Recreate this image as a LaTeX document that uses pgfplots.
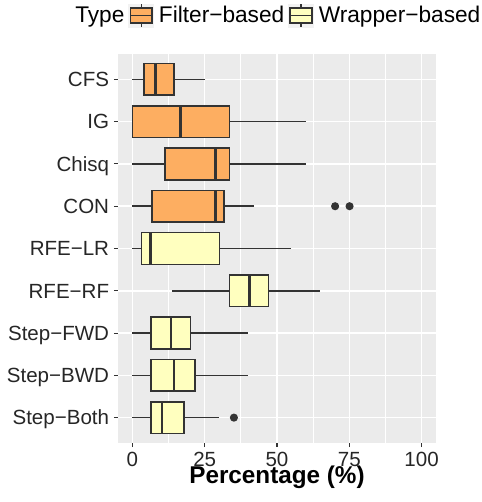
\documentclass[border=0pt]{standalone}
\usepackage{fontspec}
\setmainfont{Liberation Sans}
\usepackage{pgfplots}
\pgfplotsset{compat=1.18}
\usepgfplotslibrary{statistics}

\definecolor{filt}{HTML}{FDAE61}
\definecolor{wrap}{HTML}{FFFFBF}
\definecolor{edge}{HTML}{333333}
\definecolor{panelbg}{HTML}{EBEBEB}
\definecolor{keybg}{HTML}{F2F2F2}

\pgfplotsset{
  bx/.style={forget plot, draw=edge, line width=1.2pt, solid,
    mark=*, mark size=2.4pt, mark options={draw=edge, fill=edge, solid},
    boxplot/box extend=0.75, boxplot/whisker extend=0,
    boxplot/every median/.style={line width=2.1pt}},
  keyimg/.style={legend image code/.code={
    \fill[keybg] (0pt,-8.6pt) rectangle (18.75pt,8.6pt);
    \draw[edge, line width=1pt] (9.375pt,5.6pt) -- (9.375pt,8.6pt) (9.375pt,-5.6pt) -- (9.375pt,-8.6pt);
    \draw[edge, line width=1.1pt, fill=#1] (1.2pt,-5.6pt) rectangle (17.55pt,5.6pt);
    \draw[edge, line width=1.1pt] (1.2pt,0pt) -- (17.55pt,0pt);
  }},
}

\begin{document}
\begin{tikzpicture}
\begin{axis}[
  name=ax,
  scale only axis,
  width=238.5pt, height=291.75pt,
  xmin=-5, xmax=105,
  ymin=0.4, ymax=9.6,
  y dir=reverse,
  axis background/.style={fill=panelbg},
  axis line style={draw=none},
  xtick={0,25,50,75,100},
  minor xtick={12.5,37.5,62.5,87.5},
  ytick={1,...,9},
  yticklabels={CFS,IG,Chisq,CON,RFE−LR,RFE−RF,Step−FWD,Step−BWD,Step−Both},
  xtick pos=bottom, ytick pos=left,
  tick align=outside,
  major tick length=3pt, minor tick length=0pt,
  tick style={edge, line width=0.8pt},
  grid=both,
  major grid style={white, line width=1.1pt},
  minor grid style={white, line width=0.55pt},
  /pgf/number format/assume math mode=true,
  ticklabel style={font=\fontsize{15.4}{18}\selectfont, text=black!85, inner sep=0pt},
  xticklabel style={anchor=base, yshift=-14.25pt},
  yticklabel style={anchor=base east, yshift=-5.5pt, xshift=-3.5pt},
  xlabel={\textbf{Percentage (\%)}},
  xlabel style={font=\fontsize{18.2}{22}\selectfont, at={(axis description cs:0.5,0)}, anchor=base, yshift=-30pt, inner sep=0pt},
  legend columns=3,
  legend style={draw=none, fill=none, font=\fontsize{17}{20}\selectfont,
    at={(axis description cs:0,1)}, anchor=west, xshift=-36pt, yshift=29pt,
    inner sep=0pt, nodes={inner sep=0pt},
    /tikz/every odd column/.style={column sep=3.75pt},
    /tikz/every even column/.style={column sep=3pt}},
]
\addlegendimage{empty legend}
\addlegendentry{Type\hspace{2.25pt}}
\addlegendimage{keyimg=filt}
\addlegendentry{Filter−based}
\addlegendimage{keyimg=wrap}
\addlegendentry{Wrapper−based}

% Filter-based
\addplot[bx, fill=filt, boxplot prepared={draw position=1,
  lower whisker=0, lower quartile=3.9, median=7.9, upper quartile=14.3, upper whisker=25.2}]
  coordinates {};
\addplot[bx, fill=filt, boxplot prepared={draw position=2,
  lower whisker=0, lower quartile=0, median=16.7, upper quartile=33.5, upper whisker=60}]
  coordinates {};
\addplot[bx, fill=filt, boxplot prepared={draw position=3,
  lower whisker=0, lower quartile=11.2, median=28.7, upper quartile=33.5, upper whisker=60}]
  coordinates {};
\addplot[bx, fill=filt, boxplot prepared={draw position=4,
  lower whisker=0, lower quartile=6.7, median=28.7, upper quartile=31.7, upper whisker=42.1}]
  table[row sep=\\, y index=0] {v\\ 70.1\\ 75.1\\};
% Wrapper-based
\addplot[bx, fill=wrap, boxplot prepared={draw position=5,
  lower whisker=0, lower quartile=3.1, median=6.2, upper quartile=30.1, upper whisker=55}]
  coordinates {};
\addplot[bx, fill=wrap, boxplot prepared={draw position=6,
  lower whisker=13.6, lower quartile=33.5, median=40.6, upper quartile=47, upper whisker=65}]
  coordinates {};
\addplot[bx, fill=wrap, boxplot prepared={draw position=7,
  lower whisker=0, lower quartile=6.4, median=13.3, upper quartile=20.1, upper whisker=40}]
  coordinates {};
\addplot[bx, fill=wrap, boxplot prepared={draw position=8,
  lower whisker=0, lower quartile=6.4, median=14.4, upper quartile=21.6, upper whisker=40}]
  coordinates {};
\addplot[bx, fill=wrap, boxplot prepared={draw position=9,
  lower whisker=0, lower quartile=6.4, median=10.2, upper quartile=17.8, upper whisker=30.1}]
  table[row sep=\\, y index=0] {v\\ 35.1\\};
\end{axis}
\pgfresetboundingbox
\path (-88.5pt,-44.25pt) rectangle (272.25pt,332.25pt);
\end{tikzpicture}
\end{document}
